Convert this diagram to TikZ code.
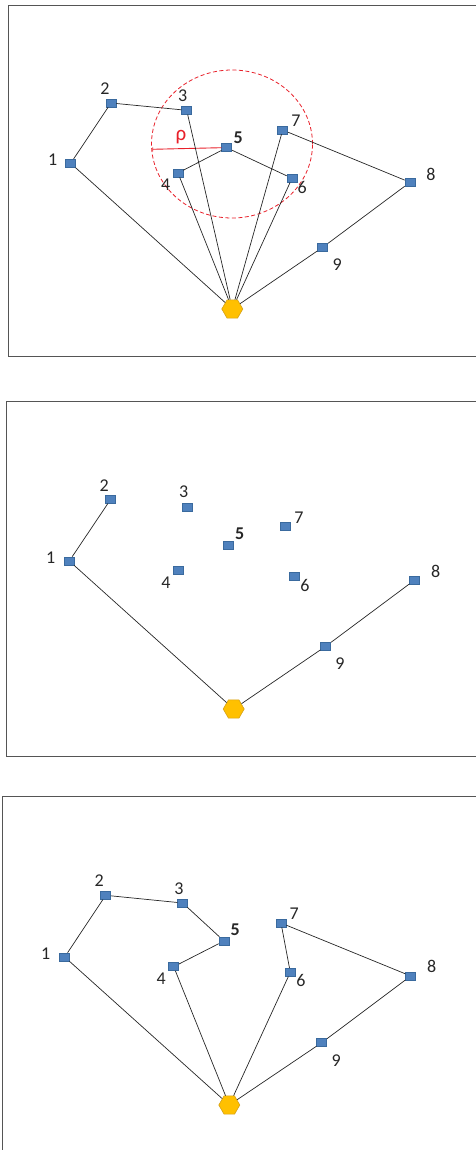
\documentclass[tikz,border=0pt]{standalone}
\usepackage{fontspec}
\setmainfont{Carlito}
\usetikzlibrary{shapes.geometric,arrows.meta}
\definecolor{nodeblue}{HTML}{4F81BD}
\definecolor{nodeedge}{HTML}{3A6A9E}
\definecolor{hexfill}{HTML}{FFC000}
\definecolor{hexedge}{HTML}{D4A017}
\definecolor{framegray}{HTML}{555555}
\definecolor{rhored}{HTML}{E8202A}
\tikzset{
  sq/.style={rectangle,draw=nodeedge,fill=nodeblue,line width=0.6pt,minimum width=10pt,minimum height=8pt,inner sep=0pt},
  hex/.style={regular polygon,regular polygon sides=6,draw=hexedge,fill=hexfill,line width=0.6pt,minimum size=21pt,inner sep=0pt},
  lab/.style={font=\fontsize{18}{18}\selectfont,text=black!85,inner sep=0pt},
  edge/.style={draw=black!85,line width=0.7pt},
  panel/.style={draw=framegray,line width=1pt},
}
\begin{document}
\begin{tikzpicture}[x=1pt,y=-1pt]
\useasboundingbox (0,0) rectangle (476,1150);
\clip (0,0) rectangle (476,1150);
% ---------------- Panel 1 ----------------
\draw[panel] (8,6) rectangle (490,356);
\draw[rhored,line width=0.8pt,dash pattern=on 4pt off 2.5pt] (232,144) ellipse [x radius=80.5pt, y radius=74pt];
\node[sq] (a1) at (70.7,163.3) {};
\node[sq] (a2) at (111,103) {};
\node[sq] (a3) at (186.7,110.3) {};
\node[sq] (a4) at (178,173) {};
\node[sq] (a5) at (226.7,147.7) {};
\node[sq] (a6) at (292,178.3) {};
\node[sq] (a7) at (282.7,130) {};
\node[sq] (a8) at (410,182.3) {};
\node[sq] (a9) at (322.7,247.3) {};
\node[hex] (ah) at (232.3,309) {};
\coordinate (arho) at (152.3,149.3);
\draw[rhored,line width=0.9pt,{Bar[width=4pt,length=0pt]}-] (arho) -- (a5.west);
\path[edge] (a1) -- (a2) (a2) -- (a3) (a1) -- (ah) (a3) -- (ah) (a4) -- (a5) (a5) -- (a6)
  (a4) -- (ah) (a7) -- (ah) (a6) -- (ah) (a7) -- (a8) (a8) -- (a9) (a9) -- (ah);
\node[lab] (al1) at (52.7,159.3) {1};
\node[lab] (al2) at (105,88.3) {2};
\node[lab] (al3) at (182.7,95.7) {3};
\node[lab] (al4) at (165.7,184.3) {4};
\node[lab] (al5) at (238.3,137.3) {\bfseries 5};
\node[lab] (al6) at (302.3,187.7) {6};
\node[lab] (al7) at (296,120.7) {7};
\node[lab] (al8) at (431,174) {8};
\node[lab] (al9) at (337.3,265) {9};
\node[lab,text=rhored,font=\fontsize{21}{21}\selectfont] (arholab) at (181,137) {ρ};
% ---------------- Panel 2 ----------------
\draw[panel] (6,401) rectangle (490,756.7);
\node[sq] (b1) at (69.3,561) {};
\node[sq] (b2) at (110.7,499.3) {};
\node[sq] (b3) at (187.3,507) {};
\node[sq] (b4) at (178,570.7) {};
\node[sq] (b5) at (228,545) {};
\node[sq] (b6) at (294.7,576) {};
\node[sq] (b7) at (285.3,526.7) {};
\node[sq] (b8) at (414.7,580) {};
\node[sq] (b9) at (325.7,646.3) {};
\node[hex] (bh) at (233.7,709) {};
\path[edge] (b1) -- (b2) (b1) -- (bh) (b9) -- (bh) (b8) -- (b9);
\node[lab] (bl1) at (50.7,557.3) {1};
\node[lab] (bl2) at (104.3,485.7) {2};
\node[lab] (bl3) at (183.7,492) {3};
\node[lab] (bl4) at (166,582.7) {4};
\node[lab] (bl5) at (239.7,534) {\bfseries 5};
\node[lab] (bl6) at (305,585) {6};
\node[lab] (bl7) at (299,518) {7};
\node[lab] (bl8) at (435.7,571) {8};
\node[lab] (bl9) at (340,664) {9};
% ---------------- Panel 3 ----------------
\draw[panel] (2,796.7) rectangle (490,1170);
\node[sq] (c1) at (64.7,957) {};
\node[sq] (c2) at (105.7,895.3) {};
\node[sq] (c3) at (182.7,903) {};
\node[sq] (c4) at (173.7,966.7) {};
\node[sq] (c5) at (224,941) {};
\node[sq] (c6) at (290.3,972.3) {};
\node[sq] (c7) at (281,923) {};
\node[sq] (c8) at (410.7,976) {};
\node[sq] (c9) at (321.7,1042.7) {};
\node[hex] (ch) at (229.3,1105) {};
\path[edge] (c1) -- (c2) (c2) -- (c3) (c3) -- (c5) (c5) -- (c4) (c4) -- (ch) (c1) -- (ch)
  (c7) -- (c6) (c6) -- (ch) (c7) -- (c8) (c8) -- (c9) (c9) -- (ch);
\node[lab] (cl1) at (45.7,953.3) {1};
\node[lab] (cl2) at (99.3,881) {2};
\node[lab] (cl3) at (179,888.3) {3};
\node[lab] (cl4) at (161.3,979) {4};
\node[lab] (cl5) at (235.3,930) {\bfseries 5};
\node[lab] (cl6) at (301,980.7) {6};
\node[lab] (cl7) at (294.3,914) {7};
\node[lab] (cl8) at (431.7,966.7) {8};
\node[lab] (cl9) at (336.3,1060.7) {9};
\end{tikzpicture}
\end{document}
